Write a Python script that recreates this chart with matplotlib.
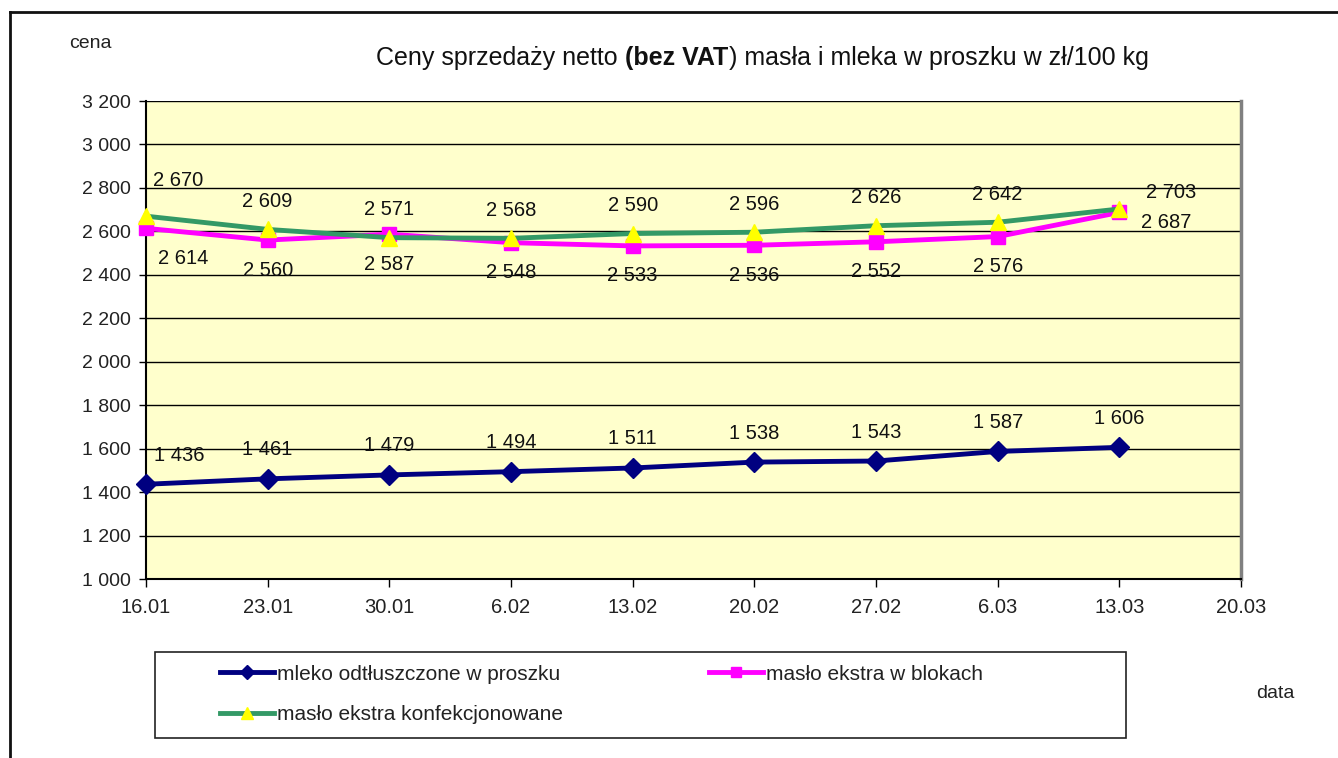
import matplotlib
matplotlib.use("Agg")
import matplotlib.pyplot as plt
from matplotlib.lines import Line2D
from matplotlib.patches import Rectangle
from matplotlib.ticker import FuncFormatter, MultipleLocator

plt.rcParams['font.family'] = ['Liberation Sans', 'DejaVu Sans']

dates = ['16.01', '23.01', '30.01', '6.02', '13.02', '20.02', '27.02', '6.03', '13.03', '20.03']
mleko = [1436, 1461, 1479, 1494, 1511, 1538, 1543, 1587, 1606]
blokach = [2614, 2560, 2587, 2548, 2533, 2536, 2552, 2576, 2687]
konfek = [2670, 2609, 2571, 2568, 2590, 2596, 2626, 2642, 2703]
names = ['mleko odtłuszczone w proszku', 'masło ekstra w blokach', 'masło ekstra konfekcjonowane']

W, H = 1338, 758
fig = plt.figure(figsize=(W / 100, H / 100), dpi=100)
fig.patch.set_facecolor('white')

def fx(px):
    return px / W

def fy(py):
    return 1 - py / H

ax = fig.add_axes([fx(146), fy(579), fx(1241) - fx(146), fy(101) - fy(579)])
ax.set_facecolor('#FFFFCC')
ax.set_xlim(0, len(dates) - 1)
ax.set_ylim(1000, 3200)
ax.yaxis.set_major_locator(MultipleLocator(200))
ax.yaxis.set_major_formatter(FuncFormatter(lambda v, p: f"{int(v):,}".replace(',', ' ')))
ax.set_xticks(range(len(dates)))
ax.set_xticklabels(dates)
ax.grid(axis='y', color='#000000', linewidth=1.0)
ax.set_axisbelow(True)
ax.tick_params(axis='y', direction='out', length=5, width=1, labelsize=14, pad=6, colors='black')
ax.tick_params(axis='x', direction='out', length=6, width=1, labelsize=14.5, pad=8, colors='black')
for lab in ax.get_yticklabels() + ax.get_xticklabels():
    lab.set_color('#222222')
ax.spines['top'].set_visible(False)
ax.spines['left'].set_color('black')
ax.spines['left'].set_linewidth(1.5)
ax.spines['bottom'].set_color('black')
ax.spines['bottom'].set_linewidth(1.5)
ax.spines['right'].set_color('#808080')
ax.spines['right'].set_linewidth(2.5)

x = list(range(len(mleko)))
l1, = ax.plot(x, mleko, color='#000080', linewidth=3.5, marker='D', markersize=10,
              markerfacecolor='#000080', markeredgecolor='#000080', zorder=3, clip_on=False)
l2, = ax.plot(x, blokach, color='#FF00FF', linewidth=3.5, marker='s', markersize=9.5,
              markerfacecolor='#FF00FF', markeredgecolor='#FF00FF', zorder=4, clip_on=False)
l3, = ax.plot(x, konfek, color='#339966', linewidth=3.5, marker='^', markersize=11,
              markerfacecolor='#FFFF00', markeredgecolor='#FFFF00', zorder=5, clip_on=False)

lfs = 14.5
def fmt(v):
    return f"{v:,}".replace(',', ' ')

for i, v in enumerate(mleko):
    dx = 33 if i == 0 else 0
    dy = 29
    ax.annotate(fmt(v), (i, v), xytext=(dx, dy), textcoords='offset pixels',
                ha='center', va='center', fontsize=lfs, color='#111111', zorder=6)
for i, v in enumerate(konfek):
    if i == 0:
        dx, dy = 32, 36
    elif i == len(konfek) - 1:
        dx, dy = 52, 16
    else:
        dx, dy = 0, 28
    ax.annotate(fmt(v), (i, v), xytext=(dx, dy), textcoords='offset pixels',
                ha='center', va='center', fontsize=lfs, color='#111111', zorder=6)
for i, v in enumerate(blokach):
    if i == 0:
        dx, dy = 37, -30
    elif i == len(blokach) - 1:
        dx, dy = 47, -10
    else:
        dx, dy = 0, -30
    ax.annotate(fmt(v), (i, v), xytext=(dx, dy), textcoords='offset pixels',
                ha='center', va='center', fontsize=lfs, color='#111111', zorder=6)

# Title with bold part
tfs = 18
t1 = fig.text(fx(376), fy(58), "Ceny sprzedaży netto", fontsize=tfs, ha='left', va='center', color='#111111')
t2 = fig.add_artist(plt.Annotation("(bez VAT", xy=(1, 0), xycoords=t1, xytext=(5, 0),
                                   textcoords='offset points', ha='left', va='bottom',
                                   fontsize=tfs, fontweight='bold', color='#111111'))
t3 = fig.add_artist(plt.Annotation(") masła i mleka w proszku w zł/100 kg", xy=(1, 0), xycoords=t2,
                                   xytext=(0.5, 0), textcoords='offset points', ha='left', va='bottom',
                                   fontsize=tfs, color='#111111'))

fig.text(fx(90), fy(43), "cena", fontsize=14, ha='center', va='center', color='#222222')
fig.text(fx(1275), fy(693), "data", fontsize=14, ha='center', va='center', color='#222222')

# Legend frame
fig.add_artist(Rectangle((fx(155), fy(738)), fx(1126) - fx(155), fy(652) - fy(738),
                         transform=fig.transFigure, fill=False, edgecolor='#222222', linewidth=1.2))
leg = fig.legend([l1, l3, l2], [names[0], names[2], names[1]], ncol=2,
                 loc='center left', bbox_to_anchor=(fx(220), fy(694.5)),
                 frameon=False, borderpad=0, borderaxespad=0, fontsize=15,
                 handlelength=2.6, handletextpad=0.15, columnspacing=7.0, labelspacing=1.05,
                 markerscale=0.75)
for t in leg.get_texts():
    t.set_color('#222222')

# Outer frame lines
fig.add_artist(Line2D([fx(10), 1], [fy(12), fy(12)], transform=fig.transFigure, color='#111111', linewidth=2))
fig.add_artist(Line2D([fx(10), fx(10)], [fy(12), 0], transform=fig.transFigure, color='#111111', linewidth=2))

fig.savefig('out.png', dpi=100)
